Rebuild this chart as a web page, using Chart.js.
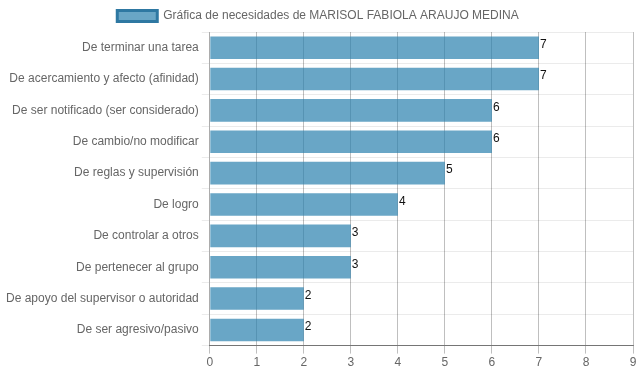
<!DOCTYPE html>
<html>
<head>
<meta charset="utf-8">
<script src="https://cdn.jsdelivr.net/npm/chart.js@4.4.0/dist/chart.umd.min.js"></script>
<style>
  html, body { margin: 0; padding: 0; background: #fff; }
  #wrap { width: 639px; height: 372px; }
</style>
</head>
<body>
<div id="wrap"><canvas id="chart"></canvas></div>
<script>
const labels = [
  "De terminar una tarea",
  "De acercamiento y afecto (afinidad)",
  "De ser notificado (ser considerado)",
  "De cambio/no modificar",
  "De reglas y supervisión",
  "De logro",
  "De controlar a otros",
  "De pertenecer al grupo",
  "De apoyo del supervisor o autoridad",
  "De ser agresivo/pasivo"
];
const values = [7, 7, 6, 6, 5, 4, 3, 3, 2, 2];
const seriesName = "Gráfica de necesidades de MARISOL FABIOLA ARAUJO MEDINA";

Chart.defaults.font.family = "Arial, 'Liberation Sans', sans-serif";
Chart.defaults.font.size = 12;
Chart.defaults.color = "#666";

// draw the value at the end of each bar
const valueLabels = {
  id: 'valueLabels',
  afterDatasetsDraw(chart) {
    const ctx = chart.ctx;
    ctx.save();
    ctx.fillStyle = '#111';
    ctx.font = "12px Arial, 'Liberation Sans', sans-serif";
    ctx.textBaseline = 'middle';
    ctx.textAlign = 'left';
    chart.getDatasetMeta(0).data.forEach((bar, i) => {
      ctx.fillText(values[i], bar.x + 1, bar.y - 3);
    });
    ctx.restore();
  }
};

new Chart(document.getElementById('chart'), {
  type: 'bar',
  data: {
    labels: labels,
    datasets: [{
      label: seriesName,
      data: values,
      backgroundColor: 'rgba(42,128,174,0.7)',
      borderWidth: 0
    }]
  },
  options: {
    indexAxis: 'y',
    responsive: true,
    maintainAspectRatio: false,
    animation: false,
    layout: { padding: { left: 3, right: 6, top: 0, bottom: 0 } },
    plugins: {
      legend: {
        labels: {
          boxWidth: 40,
          boxHeight: 11,
          generateLabels() {
            return [{
              text: seriesName,
              fillStyle: 'rgba(42,128,174,0.7)',
              strokeStyle: 'rgb(46,120,162)',
              lineWidth: 3,
              fontColor: '#666',
              datasetIndex: 0
            }];
          }
        }
      },
      tooltip: { enabled: false }
    },
    scales: {
      x: {
        min: 0,
        max: 9,
        ticks: { stepSize: 1, color: '#666', padding: 2 },
        grid: { color: 'rgba(0,0,0,0.25)' },
        border: { color: 'rgba(0,0,0,0.5)' }
      },
      y: {
        ticks: { color: '#666' },
        grid: { color: 'rgba(0,0,0,0.08)' },
        border: { color: 'rgba(0,0,0,0.1)' }
      }
    }
  },
  plugins: [valueLabels]
});
</script>
</body>
</html>
